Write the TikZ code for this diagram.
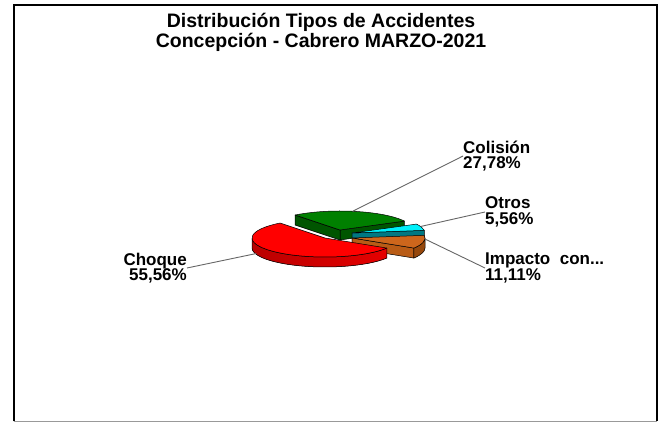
\documentclass[tikz,border=0pt]{standalone}
\usepackage{fontspec}
\setmainfont{Liberation Sans}

\definecolor{choqueTop}{RGB}{255,0,0}
\definecolor{choqueDark}{RGB}{185,0,0}
\definecolor{colisionTop}{RGB}{0,128,0}
\definecolor{colisionSide}{RGB}{0,85,0}
\definecolor{otrosTop}{RGB}{0,240,250}
\definecolor{otrosSide}{RGB}{0,120,130}
\definecolor{impactoTop}{RGB}{205,102,28}
\definecolor{impactoSide}{RGB}{185,92,22}
\definecolor{impactoWall}{RGB}{150,72,12}

\tikzset{
  slice/.style={draw=black, line width=0.5pt, line join=round},
  leader/.style={draw=black!60, line width=0.9pt},
  lbl/.style={font=\fontsize{17}{15.5}\selectfont\bfseries, inner sep=0pt},
  ttl/.style={font=\fontsize{19.5}{20}\selectfont\bfseries, inner sep=0pt, anchor=base},
}

\begin{document}
\begin{tikzpicture}[x=1pt, y=1pt]
  \useasboundingbox (0,0) rectangle (664,423);

  % frame
  \draw[line width=2pt] (13.5,1.5) -- (13.5,418) -- (656.5,418) -- (656.5,1.5);
  \draw[black!40, line width=1.5pt] (13.5,1.5) -- (656.5,1.5);

  % title
  \node[ttl] (title1) at (321,395) {Distribución Tipos de Accidentes};
  \node[ttl] (title2) at (321,375) {Concepción - Cabrero MARZO-2021};

  % slice apexes
  \coordinate (gA) at (340,193);
  \coordinate (cA) at (352,190);
  \coordinate (bA) at (352,185);
  \coordinate (rA) at (325,185);

  % Colision (back)
  \filldraw[slice, fill=colisionSide] (gA) -- ++(28:73 and 19) -- ++(0,-10) -- ++(208:73 and 19) -- cycle;
  \filldraw[slice, fill=colisionSide] (gA) -- ++(128:73 and 19) -- ++(0,-10) -- ++(308:73 and 19) -- cycle;
  \filldraw[slice, fill=colisionTop] (gA) -- ++(28:73 and 19)
    arc[start angle=28, end angle=128, x radius=73, y radius=19] -- cycle;

  % Otros
  \filldraw[slice, fill=otrosSide] (cA) -- ++(8:73 and 19) -- ++(0,-10) -- ++(188:73 and 19) -- cycle;
  \filldraw[slice, fill=otrosTop] (cA) -- ++(8:73 and 19)
    arc[start angle=8, end angle=28, x radius=73, y radius=19] -- cycle;

  % Impacto con...
  \filldraw[slice, fill=impactoSide] (bA) -- ++(-32:73 and 19) -- ++(0,-10) -- ++(148:73 and 19) -- cycle;
  \filldraw[slice, fill=impactoWall] ([shift={(-32:73 and 19)}]bA)
    arc[start angle=-32, end angle=0, x radius=73, y radius=19] -- ++(0,-10)
    arc[start angle=0, end angle=-32, x radius=73, y radius=19] -- cycle;
  \filldraw[slice, fill=impactoTop] (bA) -- ++(-32:73 and 19)
    arc[start angle=-32, end angle=8, x radius=73, y radius=19] -- cycle;

  % Choque (front)
  \filldraw[slice, left color=choqueDark, right color=choqueTop!90!black] ([shift={(180:73 and 19)}]rA)
    arc[start angle=180, end angle=328, x radius=73, y radius=19] -- ++(0,-10)
    arc[start angle=328, end angle=180, x radius=73, y radius=19] -- cycle;
  \filldraw[slice, fill=choqueTop] (rA) -- ++(128:73 and 19)
    arc[start angle=128, end angle=328, x radius=73, y radius=19] -- cycle;

  % leader anchors
  \path (gA) ++(80:73 and 19) coordinate (gL);
  \path (cA) ++(20:73 and 19) coordinate (cL);
  \path (bA) ++(-3:73 and 19) coordinate (bL);
  \path (rA) ++(200:73 and 19) ++(0,-9) coordinate (rL);

  % labels
  \node[lbl, anchor=west, align=left] (colision) at (463,267) {Colisión\\27,78\%};
  \node[lbl, anchor=west, align=left] (otros) at (485,211) {Otros\\5,56\%};
  \node[lbl, anchor=west, align=left] (impacto) at (485,155) {Impacto\ \ con...\\11,11\%};
  \node[lbl, anchor=east, align=right] (choque) at (187,155) {Choque\\55,56\%};

  \draw[leader] (gL) -- (colision.west);
  \draw[leader] (cL) -- (otros.west);
  \draw[leader] (bL) -- (impacto.west);
  \draw[leader] (rL) -- (choque.east);
\end{tikzpicture}
\end{document}
